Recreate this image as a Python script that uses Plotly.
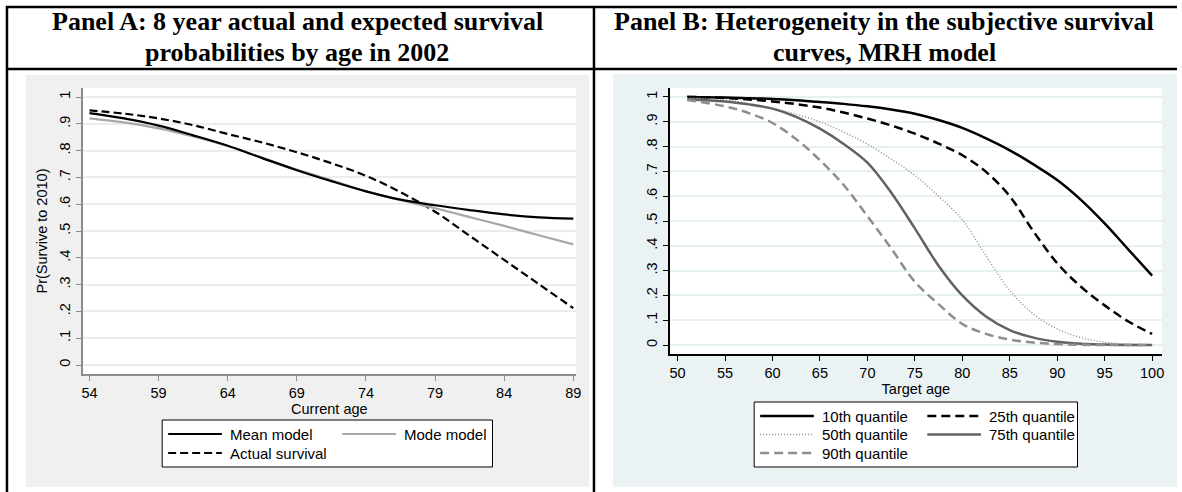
import plotly.graph_objects as go

W, H = 1182, 492

# ---------------- data: Panel A ----------------
age_a = [54, 56.5, 59, 61.5, 64, 66.5, 69, 71.5, 74, 76.5, 79, 81.5, 84, 86.5, 89]
mean_model = [0.940, 0.920, 0.893, 0.857, 0.818, 0.772, 0.727, 0.686, 0.648, 0.617, 0.596, 0.578, 0.562, 0.551, 0.546]
mode_model = [0.920, 0.905, 0.883, 0.853, 0.817, 0.773, 0.729, 0.689, 0.649, 0.615, 0.585, 0.552, 0.519, 0.484, 0.450]
actual_surv = [0.950, 0.938, 0.920, 0.895, 0.862, 0.830, 0.794, 0.753, 0.706, 0.645, 0.572, 0.482, 0.392, 0.302, 0.212]
xticks_a = [54, 59, 64, 69, 74, 79, 84, 89]

# ---------------- data: Panel B ----------------
age_b = [51, 55, 57.5, 60, 62.5, 65, 67.5, 70, 72.5, 75, 77.5, 80, 82.5, 85, 87.5, 90, 92.5, 95, 97.5, 100]
q10 = [1.000, 0.998, 0.995, 0.992, 0.987, 0.980, 0.972, 0.962, 0.949, 0.932, 0.907, 0.875, 0.833, 0.785, 0.728, 0.665, 0.585, 0.490, 0.385, 0.280]
q25 = [1.000, 0.996, 0.990, 0.982, 0.971, 0.957, 0.937, 0.913, 0.885, 0.852, 0.812, 0.765, 0.698, 0.600, 0.458, 0.330, 0.235, 0.160, 0.095, 0.045]
q50 = [0.997, 0.988, 0.974, 0.955, 0.930, 0.900, 0.858, 0.810, 0.750, 0.684, 0.600, 0.505, 0.360, 0.220, 0.125, 0.065, 0.030, 0.012, 0.004, 0.001]
q75 = [0.990, 0.982, 0.970, 0.953, 0.920, 0.872, 0.810, 0.735, 0.615, 0.470, 0.320, 0.200, 0.115, 0.060, 0.030, 0.013, 0.005, 0.002, 0.000, 0.000]
q90 = [0.988, 0.962, 0.935, 0.895, 0.830, 0.745, 0.645, 0.520, 0.390, 0.255, 0.165, 0.085, 0.045, 0.022, 0.010, 0.004, 0.001, 0.000, 0.000, 0.000]
xticks_b = [50, 55, 60, 65, 70, 75, 80, 85, 90, 95, 100]

yticks = [0, 0.1, 0.2, 0.3, 0.4, 0.5, 0.6, 0.7, 0.8, 0.9, 1]
ytick_text = ["0", ".1", ".2", ".3", ".4", ".5", ".6", ".7", ".8", ".9", "1"]

title_a = ["Panel A: 8 year actual and expected survival", "probabilities by age in 2002"]
title_b = ["Panel B: Heterogeneity in the subjective survival", "curves, MRH model"]

FONT = "Liberation Sans, Arial, sans-serif"
SERIF = "Liberation Serif, Times New Roman, serif"


def px(x):
    return x / W


def py(y):
    return 1 - y / H


fig = go.Figure()

# series A
styles_a = [
    ("Mean model", mean_model, "#000000", 2.2, "solid"),
    ("Mode model", mode_model, "#a8a8a8", 2.2, "solid"),
    ("Actual survival", actual_surv, "#000000", 2.2, "8px,4px"),
]
for i in [2, 1, 0]:
    name, vals, col, lw, dash = styles_a[i]
    fig.add_trace(go.Scatter(x=age_a, y=vals, mode="lines", name=name,
                             line=dict(color=col, width=lw, dash=dash, shape="spline"),
                             xaxis="x", yaxis="y", showlegend=False))

styles_b = [
    ("10th quantile", q10, "#000000", 2.5, "solid"),
    ("25th quantile", q25, "#000000", 2.5, "9px,5px"),
    ("50th quantile", q50, "#8a8a8a", 1.4, "1px,2px"),
    ("75th quantile", q75, "#626262", 2.5, "solid"),
    ("90th quantile", q90, "#8e8e8e", 2.5, "9px,5px"),
]
for name, vals, col, lw, dash in styles_b:
    fig.add_trace(go.Scatter(x=age_b, y=vals, mode="lines", name=name,
                             line=dict(color=col, width=lw, dash=dash, shape="spline"),
                             xaxis="x2", yaxis="y2", showlegend=False))

shapes = []
annotations = []

# panel backgrounds
shapes.append(dict(type="rect", xref="paper", yref="paper", x0=px(25), x1=px(591), y0=py(487), y1=py(75),
                   fillcolor="#f0f0f0", line=dict(width=0), layer="below"))
shapes.append(dict(type="rect", xref="paper", yref="paper", x0=px(615), x1=px(1182), y0=py(487), y1=py(74),
                   fillcolor="#eaf2f3", line=dict(width=0), layer="below"))
# plot area whites
shapes.append(dict(type="rect", xref="paper", yref="paper", x0=px(82), x1=px(578), y0=py(374), y1=py(88),
                   fillcolor="#ffffff", line=dict(width=0), layer="below"))
shapes.append(dict(type="rect", xref="paper", yref="paper", x0=px(672), x1=px(1167), y0=py(354), y1=py(88),
                   fillcolor="#ffffff", line=dict(width=0), layer="below"))

# table borders
bl = dict(color="#000000", width=2.5)
shapes += [
    dict(type="line", xref="paper", yref="paper", x0=px(5), x1=1, y0=py(7), y1=py(7), line=bl),
    dict(type="line", xref="paper", yref="paper", x0=px(5), x1=1, y0=py(69), y1=py(69), line=bl),
    dict(type="line", xref="paper", yref="paper", x0=px(6), x1=px(6), y0=0, y1=py(6), line=bl),
    dict(type="line", xref="paper", yref="paper", x0=px(596), x1=px(596), y0=0, y1=py(6), line=bl),
]

# titles
for cx, lines in [(298, title_a), (888, title_b)]:
    for k, t in enumerate(lines):
        annotations.append(dict(text="<b>%s</b>" % t, xref="paper", yref="paper", x=px(cx), y=py(22 + 30.5 * k),
                                xanchor="center", yanchor="middle", showarrow=False, borderpad=0,
                                font=dict(family=SERIF, size=26, color="#000000")))


def legend_box(x0, x1, y0, y1, entries, cols, rows_y, sample_w=54):
    shapes.append(dict(type="rect", xref="paper", yref="paper", x0=px(x0), x1=px(x1), y0=py(y1), y1=py(y0),
                       fillcolor="#ffffff", line=dict(color="#000000", width=1)))
    for idx, (name, col, lw, dash) in enumerate(entries):
        r, c = divmod(idx, 2)
        sx = cols[c]
        yy = rows_y[r]
        shapes.append(dict(type="line", xref="paper", yref="paper", x0=px(sx), x1=px(sx + sample_w),
                           y0=py(yy), y1=py(yy), line=dict(color=col, width=lw, dash=dash)))
        annotations.append(dict(text=name, xref="paper", yref="paper", x=px(sx + sample_w + 6), y=py(yy),
                                xanchor="left", yanchor="middle", showarrow=False,
                                font=dict(family=FONT, size=15, color="#000000")))


legend_box(162, 494, 420, 467,
           [(s[0], s[2], s[3], s[4]) for s in styles_a], [168, 343], [434, 453])
legend_box(757, 1082, 402, 467,
           [(s[0], s[2], s[3], s[4]) for s in styles_b], [763, 931], [416, 434.5, 453])

axis_common = dict(ticks="outside", ticklen=5, showline=True, zeroline=False,
                   tickfont=dict(family=FONT, size=14.5, color="#000000"))

fig.update_layout(
    width=W, height=H, margin=dict(l=0, r=0, t=0, b=0),
    paper_bgcolor="#ffffff", plot_bgcolor="rgba(0,0,0,0)",
    shapes=shapes, annotations=annotations,
    xaxis=dict(domain=[px(82), px(578)], range=[53.5, 89.2], tickvals=xticks_a, anchor="y",
               linecolor="#8c8c8c", tickcolor="#8c8c8c", linewidth=1.5, showgrid=False,
               title=dict(text="Current age", standoff=0, font=dict(family=FONT, size=14.5, color="#000000")),
               **axis_common),
    yaxis=dict(domain=[py(374), py(88)], range=[-0.0336, 1.0336], tickvals=yticks, ticktext=ytick_text,
               tickangle=-90, anchor="x", linecolor="#8c8c8c", tickcolor="#8c8c8c", linewidth=1.5,
               showgrid=True, gridcolor="#ececec", gridwidth=1.5,
               title=dict(text="Pr(Survive to 2010)", standoff=6, font=dict(family=FONT, size=14.5, color="#000000")),
               **axis_common),
    xaxis2=dict(domain=[px(672), px(1167)], range=[49.16, 101.05], tickvals=xticks_b, anchor="y2",
                linecolor="#000000", tickcolor="#000000", linewidth=1.5, showgrid=False,
                title=dict(text="Target age", standoff=0, font=dict(family=FONT, size=14.5, color="#000000")),
                **axis_common),
    yaxis2=dict(domain=[py(354), py(88)], range=[-0.036, 1.036], tickvals=yticks, ticktext=ytick_text,
                tickangle=-90, anchor="x2", linecolor="#000000", tickcolor="#000000", linewidth=1.5,
                showgrid=True, gridcolor="#e6eff1", gridwidth=1.5,
                **axis_common),
    showlegend=False,
)

fig.write_html("out.html")
